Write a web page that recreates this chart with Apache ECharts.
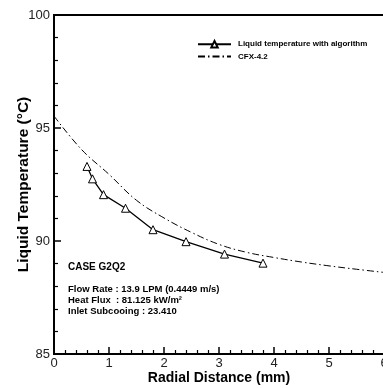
<!DOCTYPE html>
<html><head><meta charset="utf-8">
<script src="https://cdn.jsdelivr.net/npm/echarts@6/dist/echarts.min.js"></script>
<style>html,body{margin:0;padding:0;background:#fff}#c{width:383px;height:388px}</style>
</head><body><div id="c"></div>
<script>
var algoX = [0.6, 0.7, 0.9, 1.3, 1.8, 2.4, 3.1, 3.8];
var algoY = [93.3, 92.75, 92.05, 91.45, 90.5, 89.97, 89.42, 89.02];
var cfxX = [0, 0.5, 1.0, 1.5, 2.0, 2.5, 3.0, 3.5, 4.0, 4.5, 5.0, 5.5, 6.0];
var cfxY = [95.53, 94.05, 92.95, 91.8, 91.02, 90.38, 89.85, 89.5, 89.27, 89.07, 88.9, 88.75, 88.61];
var seriesNames = ['Liquid temperature with algorithm', 'CFX-4.2'];
var xTitle = 'Radial Distance (mm)';
var yTitle = 'Liquid Temperature (°C)';
var caseLabel = 'CASE G2Q2';
var infoLines = ['Flow Rate : 13.9 LPM (0.4449 m/s)', 'Heat Flux  : 81.125 kW/m²', 'Inlet Subcooing : 23.410'];

function pairs(xs, ys){ return xs.map(function(x,i){ return [x, ys[i]]; }); }

var chart = echarts.init(document.getElementById('c'));
var txtFont = 'Liberation Sans, Arial, sans-serif';
chart.setOption({
  animation: false,
  grid: {left: 54, top: 15, width: 330, height: 339, outerBoundsMode: 'none', containLabel: false,
         show: true, borderColor: '#000', borderWidth: 2, backgroundColor: 'transparent'},
  legend: {
    left: 197, top: 40, padding: 0, orient: 'vertical', itemWidth: 33, itemHeight: 8, itemGap: 4,
    textStyle: {fontFamily: txtFont, fontSize: 8, color: '#000', fontWeight: 'bold', padding: [0,0,0,2]},
    data: [{name: seriesNames[0]}, {name: seriesNames[1], itemStyle: {color: 'transparent', borderWidth: 0, opacity: 0}}]
  },
  xAxis: {
    type: 'value', min: 0, max: 6, interval: 1,
    axisLine: {show: true, lineStyle: {color: '#000', width: 2}},
    axisTick: {inside: true, length: 7, lineStyle: {color: '#000', width: 1.5}},
    minorTick: {show: true, splitNumber: 5, length: 4, lineStyle: {color: '#000', width: 1.2}},
    splitLine: {show: false},
    axisLabel: {fontFamily: txtFont, fontSize: 13, color: '#222', margin: 3},
    name: xTitle, nameLocation: 'middle', nameGap: 17, nameMoveOverlap: false,
    nameTextStyle: {fontFamily: txtFont, fontSize: 14, fontWeight: 'bold', color: '#000'}
  },
  yAxis: {
    type: 'value', min: 85, max: 100, interval: 5,
    axisLine: {show: true, lineStyle: {color: '#000', width: 2}},
    axisTick: {inside: true, length: 7, lineStyle: {color: '#000', width: 1.5}},
    minorTick: {show: true, splitNumber: 5, length: 4, lineStyle: {color: '#000', width: 1.2}},
    splitLine: {show: false},
    axisLabel: {fontFamily: txtFont, fontSize: 13, color: '#222', margin: 4},
    name: yTitle, nameLocation: 'middle', nameGap: 22, nameMoveOverlap: false,
    nameTextStyle: {fontFamily: txtFont, fontSize: 15.5, fontWeight: 'bold', color: '#000'}
  },
  series: [
    {
      name: seriesNames[0], type: 'line', data: pairs(algoX, algoY),
      symbol: 'triangle', symbolSize: 8, showAllSymbol: true,
      lineStyle: {color: '#000', width: 1.3},
      itemStyle: {color: '#fff', borderColor: '#000', borderWidth: 1},
      z: 3
    },
    {
      name: seriesNames[1], type: 'line', data: pairs(cfxX, cfxY), smooth: 0.4,
      symbol: 'none',
      lineStyle: {color: '#000', width: 1, type: [7, 3, 1.5, 3]},
      itemStyle: {color: '#000'},
      z: 2
    }
  ],
  graphic: [
    {type: 'text', left: 68, top: 262, style: {text: caseLabel, font: 'bold 10px ' + txtFont, fill: '#000'}},
    {type: 'text', left: 68, top: 284, style: {text: infoLines[0], font: 'bold 9.5px ' + txtFont, fill: '#000'}},
    {type: 'text', left: 68, top: 295, style: {text: infoLines[1], font: 'bold 9.5px ' + txtFont, fill: '#000'}},
    {type: 'text', left: 68, top: 306, style: {text: infoLines[2], font: 'bold 9.5px ' + txtFont, fill: '#000'}}
  ]
});
</script></body></html>
